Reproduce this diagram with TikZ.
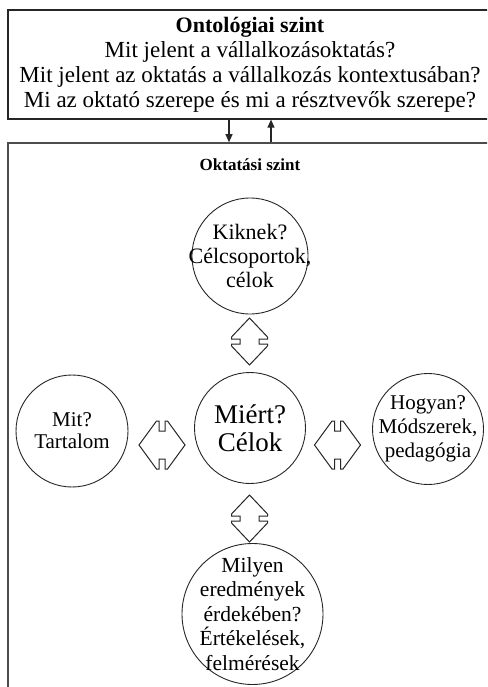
\documentclass[tikz,border=0pt]{standalone}
\usepackage{fontspec}
\setmainfont{Liberation Serif}
\usetikzlibrary{arrows.meta,calc}

\tikzset{
  frame/.style={draw=black!85, line width=1.2pt, inner sep=0pt},
  outerframe/.style={draw=black!70, line width=1.6pt, inner sep=0pt},
  bubble/.style={circle, draw=black!85, line width=0.9pt, inner sep=0pt},
  bubbletext/.style={align=center, inner sep=0pt},
  flow/.style={draw=black!85, line width=1.1pt, -{Triangle[length=8pt,width=7pt]}},
  arrowline/.style={draw=black!85, line width=1pt, line join=miter, fill=white},
  % hollow double-headed block arrow along the local y axis
  % #1 half length, #2 half head width, #3 half shaft width,
  % #4 half shaft length, #5 depth of the head's back edge
  pics/dblarrow/.style n args={5}{code={
    \path[arrowline] (0,-#1) -- (#2,{-#4-#5}) -- (#2,-#4) -- (#3,-#4) -- (#3,#4)
      -- (#2,#4) -- (#2,{#4+#5}) -- (0,#1) -- (-#2,{#4+#5}) -- (-#2,#4)
      -- (-#3,#4) -- (-#3,-#4) -- (-#2,-#4) -- (-#2,{-#4-#5}) -- cycle;
  }},
}

\begin{document}
\begin{tikzpicture}[x=1pt,y=-1pt]
\useasboundingbox (0,0) rectangle (487,687);
\clip (0,0) rectangle (487,687);

% ontological level
\node[frame, minimum width=484pt, minimum height=109pt, align=center,
      font=\fontsize{23}{25}\selectfont] (ontbox) at (250,64.5)
  {{\bfseries\fontsize{22}{25}\selectfont Ontológiai szint}\\
   Mit jelent a vállalkozásoktatás?\\
   Mit jelent az oktatás a vállalkozás kontextusában?\\
   Mi az oktató szerepe és mi a résztvevők szerepe?};

% educational level
\node[outerframe, minimum width=484pt, minimum height=580pt] (edubox) at (250,433) {};
\node[font=\bfseries\fontsize{17}{19}\selectfont] (edutitle) at (250,165) {Oktatási szint};

% links between the two levels
\draw[flow] ($(ontbox.south)+(-21,0)$) -- ($(edubox.north)+(-21,0)$);
\draw[flow] ($(edubox.north)+(21,0)$) -- ($(ontbox.south)+(21,0)$);

% question circles
\node[bubble, minimum size=116pt] (who) at (250,256) {};
\node[bubbletext, font=\fontsize{22}{24}\selectfont] (who-text) at (who)
  {Kiknek?\\Célcsoportok,\\célok};

\node[bubble, minimum size=111pt] (why) at (250,428) {};
\node[bubbletext, font=\fontsize{27}{28}\selectfont] (why-text) at (why)
  {Miért?\\Célok};

\node[bubble, minimum size=112pt] (what) at (72,431) {};
\node[bubbletext, font=\fontsize{21}{22}\selectfont] (what-text) at (what)
  {Mit?\\Tartalom};

\node[bubble, minimum size=111pt] (how) at (428,429) {};
\node[bubbletext, font=\fontsize{21}{24}\selectfont] (how-text) at (how)
  {Hogyan?\\Módszerek,\\pedagógia};

\node[bubble, minimum size=141pt] (results) at (252.5,614) {};
\node[bubbletext, font=\fontsize{21.5}{24.5}\selectfont] (results-text) at (results)
  {Milyen\\eredmények\\érdekében?\\Értékelések,\\felmérések};

% double arrows around the central circle
\pic at (249.5,341.5) {dblarrow={23.5}{18}{9.5}{2.5}{2}};
\pic at (249.5,518.5) {dblarrow={23.5}{18}{9.5}{2.5}{2}};
\pic[rotate=90] at (162,445) {dblarrow={23}{24}{14}{3}{2.5}};
\pic[rotate=90] at (337.5,445) {dblarrow={23}{24}{14}{3}{2.5}};
\end{tikzpicture}
\end{document}
